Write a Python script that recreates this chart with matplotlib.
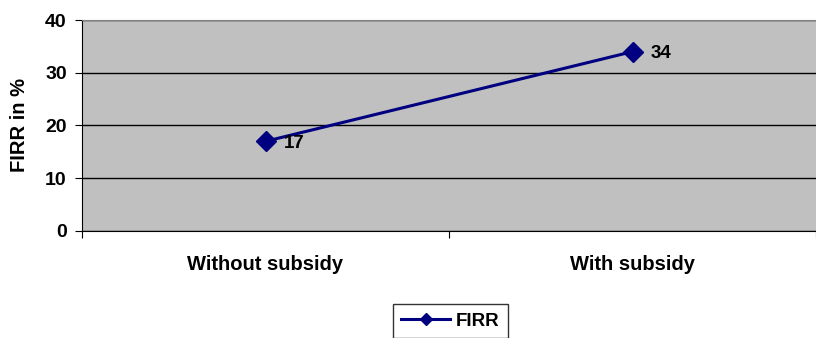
import matplotlib

matplotlib.use("Agg")

import matplotlib.pyplot as plt

categories = ["Without subsidy", "With subsidy"]
firr_values = [17, 34]
y_ticks = [0, 10, 20, 30, 40]

plt.rcParams["font.family"] = ["Liberation Sans", "DejaVu Sans"]
plt.rcParams["font.weight"] = "bold"

fig = plt.figure(figsize=(8.16, 3.38), dpi=100)
ax = fig.add_axes([0.1005, 0.3166, 0.8995, 0.6242])
ax.set_facecolor("#C0C0C0")

x = [0.5, 1.5]
ax.plot(x, firr_values, color="#000080", linewidth=2.2, marker="D",
        markersize=10, label="FIRR", zorder=3)
for xi, v in zip(x, firr_values):
    ax.annotate(f"{v}", (xi, v), xytext=(13, -1.5), textcoords="offset points",
                fontsize=13.5, fontweight="bold", va="center", ha="left")

ax.set_xlim(0, 2)
ax.set_ylim(0, 40)
ax.set_yticks(y_ticks)
ax.set_xticks([0, 1, 2])
ax.set_xticklabels([])
ax.set_xticks(x, minor=True)
ax.set_xticklabels(categories, minor=True)
ax.tick_params(axis="x", which="minor", length=0, pad=17, labelsize=14.5)
ax.tick_params(axis="x", which="major", length=5, direction="out", color="black")
ax.tick_params(axis="y", length=5, direction="out", labelsize=14, pad=6)
for lbl in ax.get_yticklabels() + ax.get_xticklabels(minor=True):
    lbl.set_fontweight("bold")

ax.grid(axis="y", color="black", linewidth=1)
ax.set_axisbelow(True)
ax.spines["right"].set_visible(False)
ax.spines["top"].set_color("#808080")
ax.spines["left"].set_color("black")
ax.spines["bottom"].set_color("black")

ax.set_ylabel("FIRR in %", fontsize=14.5, fontweight="bold")
ax.yaxis.set_label_coords(-53 / 734, 0.5)

leg = fig.legend(loc="center", bbox_to_anchor=(0.552, 0.05), frameon=True,
                 fancybox=False, edgecolor="black", prop={"weight": "bold", "size": 13.5},
                 handlelength=2.6, borderpad=0.45, borderaxespad=0, handletextpad=0.3,
                 markerscale=0.6)
leg.get_frame().set_linewidth(1)

fig.savefig("out.png", dpi=100)
